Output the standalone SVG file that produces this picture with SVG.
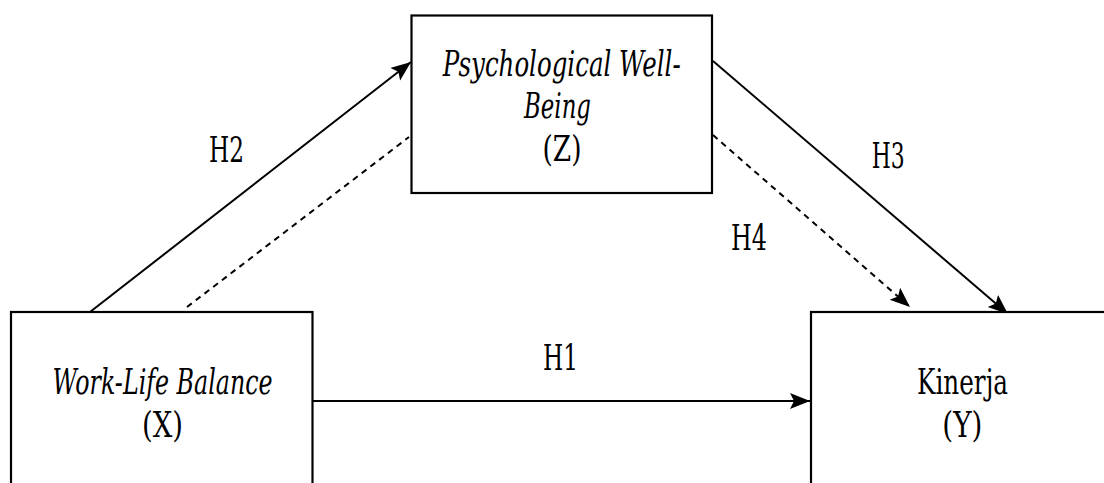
<svg xmlns="http://www.w3.org/2000/svg" width="1104" height="483" viewBox="0 0 1104 483">
  <defs>
    <style>
      .box { fill: #ffffff; stroke: #000000; stroke-width: 2.2; }
      .conn { fill: none; stroke: #000000; stroke-width: 2; }
      .dash { stroke-dasharray: 6 5; }
      .t { font-family: 'DejaVu Serif', serif; font-size: 36px; fill: #000000; text-anchor: middle; }
      .i { font-style: italic; }
    </style>
    <marker id="arrow" markerUnits="userSpaceOnUse" markerWidth="24" markerHeight="18" refX="20" refY="8" orient="auto">
      <path d="M0,0 L20,8 L0,16 L4,8 z" fill="#000000"/>
    </marker>
  </defs>
  <rect width="1104" height="483" fill="#ffffff"/>

  <g id="connectors">
    <line class="conn" x1="90" y1="312" x2="411" y2="62" marker-end="url(#arrow)"/>
    <line class="conn dash" x1="187" y1="307" x2="409" y2="137"/>
    <line class="conn" x1="713" y1="61" x2="1008" y2="314" marker-end="url(#arrow)"/>
    <line class="conn dash" x1="713" y1="135" x2="910" y2="307" marker-end="url(#arrow)"/>
    <line class="conn" x1="313" y1="401" x2="810" y2="401" marker-end="url(#arrow)"/>
    <text class="t" x="226.5" y="162" textLength="35" lengthAdjust="spacingAndGlyphs">H2</text>
    <text class="t" x="888.3" y="168" textLength="33" lengthAdjust="spacingAndGlyphs">H3</text>
    <text class="t" x="749" y="250" textLength="36" lengthAdjust="spacingAndGlyphs">H4</text>
    <text class="t" x="560.5" y="370" textLength="35" lengthAdjust="spacingAndGlyphs">H1</text>
  </g>

  <g id="node-z">
    <rect class="box" x="411.5" y="15.5" width="300.5" height="177.5"/>
    <text class="t i" x="561.7" y="76" textLength="238" lengthAdjust="spacingAndGlyphs">Psychological Well-</text>
    <text class="t i" x="557.5" y="118" textLength="67" lengthAdjust="spacingAndGlyphs">Being</text>
    <text class="t" x="562" y="161" textLength="39" lengthAdjust="spacingAndGlyphs">(Z)</text>
  </g>

  <g id="node-x">
    <rect class="box" x="11" y="312" width="301.5" height="200"/>
    <text class="t i" x="162.5" y="394" textLength="220" lengthAdjust="spacingAndGlyphs">Work-Life Balance</text>
    <text class="t" x="162.5" y="437" textLength="41" lengthAdjust="spacingAndGlyphs">(X)</text>
  </g>

  <g id="node-y">
    <rect class="box" x="811" y="312" width="320" height="200"/>
    <text class="t" x="962.5" y="394" textLength="91" lengthAdjust="spacingAndGlyphs">Kinerja</text>
    <text class="t" x="962.3" y="437" textLength="40" lengthAdjust="spacingAndGlyphs">(Y)</text>
  </g>
</svg>
